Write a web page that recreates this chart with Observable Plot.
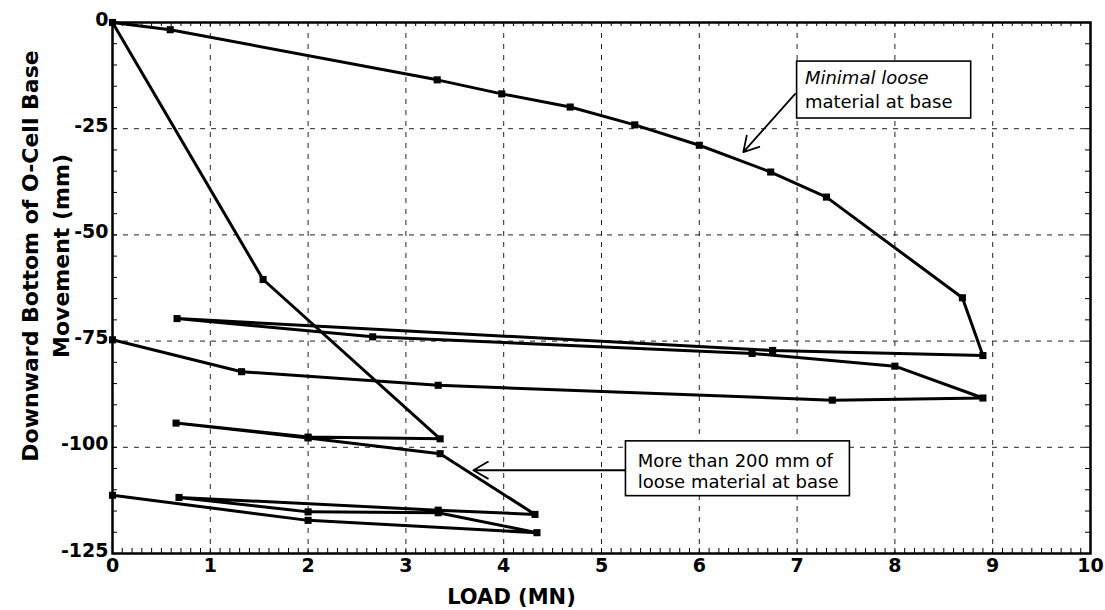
<!DOCTYPE html>
<html>
<head>
<meta charset="utf-8">
<script src="https://cdn.jsdelivr.net/npm/d3@7"></script>
<script src="https://cdn.jsdelivr.net/npm/@observablehq/plot@0.6"></script>
<style>
  html, body { margin: 0; padding: 0; background: #fff; }
  #chart svg { display: block; }
</style>
</head>
<body>
<div id="chart"></div>
<script>
// ---- axis ticks ----
const xTicks = [0, 1, 2, 3, 4, 5, 6, 7, 8, 9, 10];
const yTicks = [0, -25, -50, -75, -100, -125];
const xGrid = [1, 2, 3, 4, 5, 6, 7, 8, 9];
const yGrid = [-25, -50, -75, -100];

// ---- series: "Minimal loose material at base" (load MN, movement mm) ----
const minimalLoad = [0, 0.59, 3.32, 3.98, 4.68, 5.34, 6.0, 6.73, 7.3, 8.69, 8.9, 6.75, 0.66, 2.66, 6.54, 8.0, 8.9, 7.36, 3.33, 1.32, 0];
const minimalMove = [0, -1.7, -13.5, -16.8, -19.9, -24.1, -28.9, -35.2, -41.1, -64.8, -78.4, -77.2, -69.7, -74.0, -77.9, -80.9, -88.4, -88.9, -85.4, -82.2, -74.7];

// ---- series: "More than 200 mm of loose material at base" ----
const looseLoad = [0, 1.54, 3.35, 2.0, 0.65, 2.0, 3.35, 4.32, 3.33, 0.68, 2.0, 3.33, 4.34, 2.0, 0];
const looseMove = [0, -60.5, -98.0, -97.6, -94.3, -97.8, -101.5, -115.8, -114.8, -111.8, -115.2, -115.4, -120.1, -117.2, -111.3];

// ---- annotations ----
const noteBoxes = [
  {x1: 7.0, x2: 8.78, y1: -9.2, y2: -22.6},
  {x1: 5.25, x2: 7.54, y1: -98.6, y2: -111.5}
];
const noteLines = [
  {text: "Minimal loose", x: 7.08, y: -14.4, italic: true},
  {text: "material at base", x: 7.08, y: -20.2, italic: false},
  {text: "More than 200 mm of", x: 5.37, y: -104.6, italic: false},
  {text: "loose material at base", x: 5.37, y: -109.6, italic: false}
];
const noteArrows = [
  {x1: 6.98, y1: -16.8, x2: 6.45, y2: -30.5},
  {x1: 5.25, y1: -105.4, x2: 3.69, y2: -105.4}
];

// minor tick positions along the frame
const minorX = d3.range(0, 101).map(i => i / 10);
const minorY = d3.range(0, 26).map(i => -i * 5);

// ---- build table ----
const rows = [];
minimalLoad.forEach((v, i) => rows.push({series: "minimal", load: v, move: minimalMove[i]}));
looseLoad.forEach((v, i) => rows.push({series: "loose", load: v, move: looseMove[i]}));

const W = 1105, H = 610;
const mL = 112, mR = 15, mT = 22, mB = 57;
const plotH = H - mT - mB;
const plotW = W - mL - mR;

const chart = Plot.plot({
  width: W,
  height: H,
  marginLeft: mL,
  marginRight: mR,
  marginTop: mT,
  marginBottom: mB,
  x: {domain: [0, 10]},
  y: {domain: [-125, 0]},
  style: {fontFamily: "DejaVu Sans", background: "white", color: "black"},
  marks: [
    // dashed grid
    Plot.ruleX(xGrid, {x: d => d, stroke: "#222", strokeWidth: 1, strokeDasharray: "5,6"}),
    Plot.ruleY(yGrid, {y: d => d, stroke: "#222", strokeWidth: 1, strokeDasharray: "5,6"}),
    // inward minor ticks
    Plot.ruleX(minorX, {x: d => d, insetTop: plotH - 5, stroke: "black", strokeWidth: 1}),
    Plot.ruleX(minorX, {x: d => d, insetBottom: plotH - 4, stroke: "black", strokeWidth: 1}),
    Plot.ruleY(minorY, {y: d => d, insetRight: plotW - 5, stroke: "black", strokeWidth: 1}),
    Plot.ruleY(minorY, {y: d => d, insetLeft: plotW - 5, stroke: "black", strokeWidth: 1}),
    Plot.frame({stroke: "black", strokeWidth: 2.5}),
    // axes
    Plot.axisX(xTicks, {tickSize: 0, tickPadding: 5, fontSize: 19, fontWeight: "bold", label: null, tickFormat: d => String(d)}),
    Plot.axisY(yTicks, {tickSize: 0, tickPadding: 4, fontSize: 19, fontWeight: "bold", label: null, dy: -3, tickFormat: d => String(d)}),
    // axis titles
    Plot.text(["LOAD (MN)"], {frameAnchor: "bottom", text: d => d, dx: -90, dy: 50, lineAnchor: "bottom", fontSize: 21, fontWeight: "bold"}),
    Plot.text(["Downward Bottom of O-Cell Base\nMovement (mm)"], {frameAnchor: "left", text: d => d, rotate: -90, dx: -69, dy: -32, lineHeight: 1.4, fontSize: 22, fontWeight: "bold", textAnchor: "middle"}),
    // data
    Plot.line(rows, {x: "load", y: "move", z: "series", stroke: "black", strokeWidth: 3, strokeLinejoin: "round"}),
    Plot.dot(rows, {x: "load", y: "move", symbol: "square", r: 4, fill: "black", stroke: "none"}),
    // annotations
    Plot.arrow(noteArrows, {x1: "x1", y1: "y1", x2: "x2", y2: "y2", stroke: "black", strokeWidth: 1.8, headLength: 14}),
    Plot.rect(noteBoxes, {x1: "x1", x2: "x2", y1: "y1", y2: "y2", fill: "white", stroke: "black", strokeWidth: 1.6}),
    Plot.text(noteLines.filter(d => d.italic), {x: "x", y: "y", text: "text", textAnchor: "start", lineAnchor: "bottom", fontSize: 18, fontStyle: "italic"}),
    Plot.text(noteLines.filter(d => !d.italic), {x: "x", y: "y", text: "text", textAnchor: "start", lineAnchor: "bottom", fontSize: 18})
  ]
});

document.getElementById("chart").appendChild(chart);
</script>
</body>
</html>
